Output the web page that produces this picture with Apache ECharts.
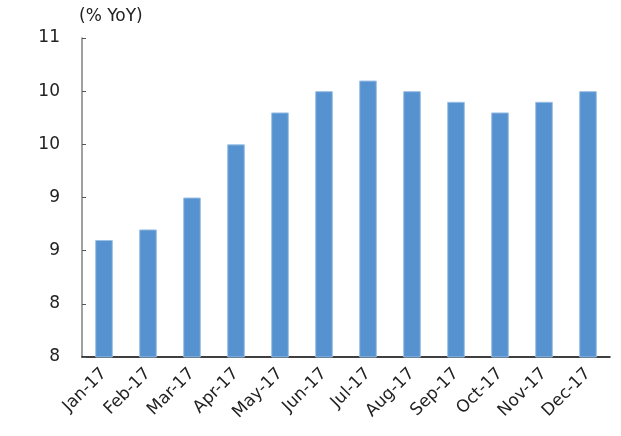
<!DOCTYPE html>
<html>
<head>
<meta charset="utf-8">
<script src="https://cdn.jsdelivr.net/npm/echarts@6/dist/echarts.min.js"></script>
<style>html,body{margin:0;padding:0;background:#fff;}#c{width:621px;height:436px;}</style>
</head>
<body>
<div id="c"></div>
<script>
var categories = ['Jan-17','Feb-17','Mar-17','Apr-17','May-17','Jun-17','Jul-17','Aug-17','Sep-17','Oct-17','Nov-17','Dec-17'];
var values = [9.1, 9.2, 9.5, 10.0, 10.3, 10.5, 10.6, 10.5, 10.4, 10.3, 10.4, 10.5];
var yMin = 8, yMax = 11, yStep = 0.5;
var unitLabel = '(% YoY)';

var chart = echarts.init(document.getElementById('c'), null, {renderer: 'canvas'});
var font = 'DejaVu Sans, Liberation Sans, sans-serif';
chart.setOption({
  animation: false,
  grid: {left: 82, right: 11, top: 38, bottom: 79, containLabel: false},
  xAxis: {
    type: 'category',
    data: categories,
    axisLine: {lineStyle: {color: '#000', width: 1.5}},
    axisTick: {inside: true, length: 4, lineStyle: {color: '#000'}},
    axisLabel: {rotate: 45, margin: 14, color: '#222', fontSize: 17, fontFamily: font},
    splitLine: {show: false}
  },
  yAxis: {
    type: 'value',
    min: yMin, max: yMax, interval: yStep,
    name: unitLabel,
    nameLocation: 'end',
    nameGap: 13,
    nameTextStyle: {color: '#222', fontSize: 17, fontFamily: font, align: 'left', padding: [0, 0, 0, -3]},
    axisLine: {show: true, lineStyle: {color: '#808080', width: 1.5}},
    axisTick: {show: true, inside: true, length: 4, lineStyle: {color: '#555'}},
    axisLabel: {margin: 22, color: '#222', fontSize: 17, fontFamily: font, formatter: function(v){ return String(Math.floor(v)); }},
    splitLine: {show: false}
  },
  series: [{
    type: 'bar',
    data: values,
    barWidth: '40%',
    itemStyle: {color: '#5592cf', borderColor: '#9cc0e6', borderWidth: 1}
  }]
});
</script>
</body>
</html>
